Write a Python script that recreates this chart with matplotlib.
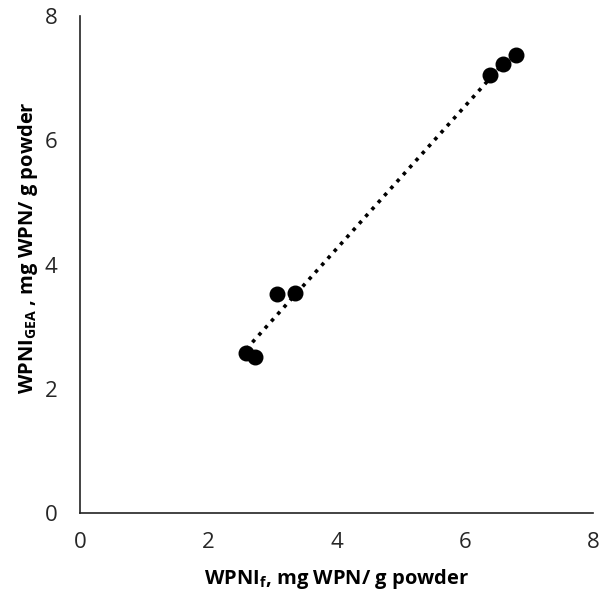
import matplotlib.pyplot as plt
import numpy as np

plt.rcParams['font.family'] = ['Open Sans', 'DejaVu Sans']
plt.rcParams['mathtext.fontset'] = 'custom'
plt.rcParams['mathtext.rm'] = 'Open Sans'
plt.rcParams['mathtext.bf'] = 'Open Sans:bold'

# WPNI from flow vs WPNI from GEA
wpni_f = [2.59, 2.73, 3.07, 3.35, 6.39, 6.60, 6.79]
wpni_gea = [2.58, 2.51, 3.53, 3.54, 7.05, 7.23, 7.38]
ticks = [0, 2, 4, 6, 8]

fig = plt.figure(figsize=(6.01, 6.0), dpi=100)
ax = fig.add_axes([0.133, 0.145, 0.854, 0.828])

ax.scatter(wpni_f, wpni_gea, s=110, color='black', zorder=3)

# linear trendline
k, b = np.polyfit(wpni_f, wpni_gea, 1)
xs = np.array([min(wpni_f), max(wpni_f)])
ax.plot(xs, k * xs + b, color='black', linestyle=(0, (1, 1.6)), linewidth=2.6, zorder=2)

ax.set_xlim(0, 8)
ax.set_ylim(0, 8)
ax.set_xticks(ticks)
ax.set_yticks(ticks)
ax.tick_params(length=0, labelsize=16, labelcolor='#262626')
ax.tick_params(axis='y', pad=16)
ax.tick_params(axis='x', pad=14)

for s in ['top', 'right']:
    ax.spines[s].set_visible(False)
for s in ['left', 'bottom']:
    ax.spines[s].set_linewidth(1.2)
    ax.spines[s].set_color('#222222')

ax.set_xlabel(r'WPNI$_{\mathbf{f}}$, mg WPN/ g powder', fontsize=14.5, fontweight='bold', labelpad=10)
ax.set_ylabel(r'WPNI$_{\mathbf{GEA}}$ , mg WPN/ g powder', fontsize=14.5, fontweight='bold')
ax.yaxis.set_label_coords(-0.078, 0.535)

fig.savefig('out.png', dpi=100)
